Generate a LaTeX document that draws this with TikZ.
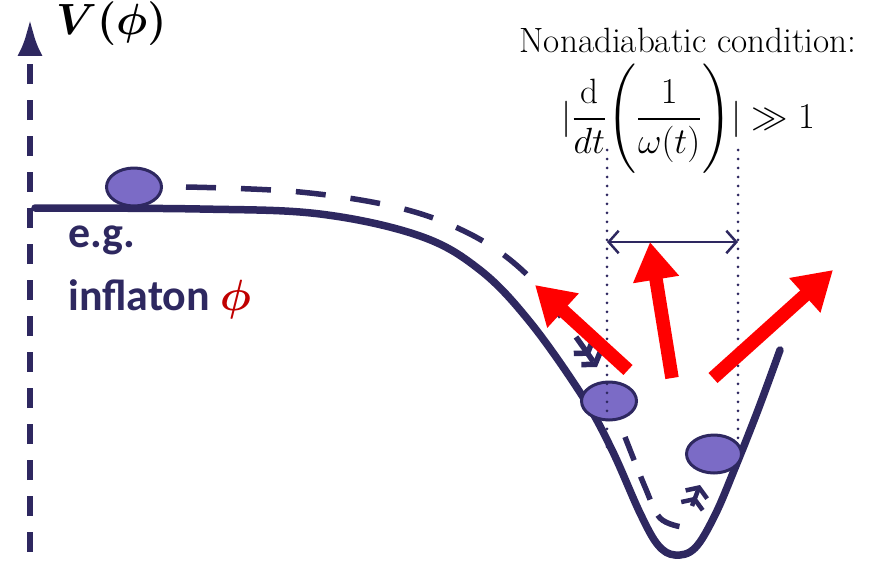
\documentclass[tikz,border=0pt]{standalone}
\usepackage{amsmath}
\usepackage{bm}
\usepackage{fontspec}
\newfontfamily\carlito{Carlito}
\usetikzlibrary{arrows.meta,shapes.geometric}
\definecolor{ink}{HTML}{2E2860}
\definecolor{ballfill}{HTML}{7B6BC6}
\definecolor{kickred}{HTML}{FF0000}
\definecolor{phired}{HTML}{C00000}

\begin{document}
\begin{tikzpicture}[x=0.02cm,y=-0.02cm,>=Latex,
  ball/.style={ellipse,draw=ink,line width=0.06cm,fill=ballfill,inner sep=0pt,minimum width=1.1cm,minimum height=0.76cm},
  traj/.style={ink,line width=0.11cm,dash pattern=on 0.6cm off 0.5cm},
  chevtip/.style={-{Straight Barb[length=1.5mm,width=4.6mm]Straight Barb[length=1.5mm,width=4.6mm]}},
  kick/.style={kickred,line width=0.27cm,-{Triangle[length=0.76cm,width=0.88cm]}},
  guide/.style={ink,line width=0.06cm,line cap=round,dash pattern=on 0pt off 0.18cm}]
\useasboundingbox (0,0) rectangle (879,561);
% axis
\coordinate (ax0) at (30,552);
\coordinate (ax1) at (30,18);
\draw[ink,line width=0.14cm,dash pattern=on 0.4cm off 0.32cm,-{Latex[length=0.76cm,width=0.5cm]}] (ax0)--(ax1);
\node[anchor=west,font=\fontsize{27}{30}\selectfont] (vphi) at (50,24) {$\bm{V(\phi)}$};
% potential
\draw[ink,line width=0.15cm,line cap=round] plot[smooth,tension=0.6] coordinates
  {(35,208) (200,209) (320,214) (420,236) (480,270) (530,322) (583,397) (612,450) (640,513) (658,545) (675,555) (695,548) (715,515) (735,468) (758,410) (780,350)};
% trajectory
\draw[traj,chevtip] plot[smooth,tension=0.6] coordinates
  {(186,187) (300,192) (400,208) (470,234) (522,270) (562,318) (597,367)};
\draw[traj,dash pattern=on 0.5cm off 0.35cm] plot[smooth,tension=0.6] coordinates
  {(625,437) (645,487) (660,518) (682,527)};
\coordinate (c0) at (692,506);
\coordinate (c1) at (700,485);
\draw[ink,line width=0.09cm,chevtip] (c0)--(c1);
% balls
\node[ball] (b1) at (134,187) {};
\node[ball] (b2) at (609,401) {};
\node[ball] (b3) at (714,454) {};
% nonadiabatic window
\coordinate (gl0) at (607,150); \coordinate (gl1) at (607,448);
\coordinate (gr0) at (738,150); \coordinate (gr1) at (738,443);
\draw[guide] (gl0)--(gl1);
\draw[guide] (gr0)--(gr1);
\coordinate (wl) at (607,242); \coordinate (wr) at (738,242);
\draw[ink,line width=0.05cm,{Straight Barb[length=2mm,width=4.5mm]}-{Straight Barb[length=2mm,width=4.5mm]}] (wl)--(wr);
% particle production
\coordinate (k1t) at (628,370); \coordinate (k1h) at (535,285);
\coordinate (k2t) at (672,378); \coordinate (k2h) at (650,242);
\coordinate (k3t) at (713,378); \coordinate (k3h) at (833,270);
\foreach \s/\e in {k1t/k1h,k2t/k2h,k3t/k3h}
  \draw[kick] (\s)--(\e);
% labels
\node[inner sep=0pt,font=\fontsize{20}{24}\selectfont] (cond) at (688,40) {Nonadiabatic condition:};
\node[inner sep=0pt,font=\fontsize{20}{24}\selectfont] (condeq) at (688,119) {$|\dfrac{\mathrm{d}}{dt}\Biggl(\dfrac{1}{\omega(t)}\Biggr)| \gg 1$};
\node[anchor=base west,ink,font=\carlito\bfseries\fontsize{25}{30}\selectfont] (eg) at (62,247) {e.g.};
\node[anchor=base west,ink,font=\carlito\bfseries\fontsize{25}{30}\selectfont] (infl) at (62,310) {inflaton \textcolor{phired}{\fontsize{30}{30}\selectfont$\bm{\phi}$}};
\end{tikzpicture}
\end{document}
